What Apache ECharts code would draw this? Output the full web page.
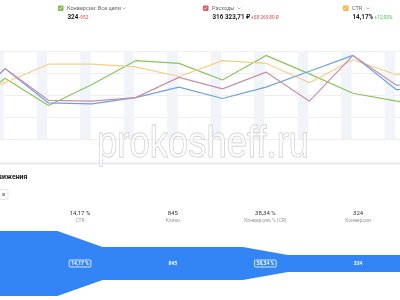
<!DOCTYPE html>
<html>
<head>
<meta charset="utf-8">
<script src="https://cdn.jsdelivr.net/npm/echarts@6/dist/echarts.min.js"></script>
<style>
  html, body { margin: 0; padding: 0; background: #fff; }
  #main { width: 400px; height: 300px; }
</style>
</head>
<body>
<div id="main"></div>
<script>
// недели (индекс -1 и 10 выходят за край графика)
const weeks = [-1, 0, 1, 2, 3, 4, 5, 6, 7, 8, 9, 10];
// нормированные значения, % высоты графика
const conversions = [30, 69, 38, 62, 89, 86, 67, 95, 74, 52, 43, 41];
const spend = [31, 80, 44, 43, 47, 70, 57, 76, 43, 95, 61, 67];
const ctr = [44, 64, 85, 85, 82, 71, 89, 86, 64, 90, 73, 84];
const clicks = [31, 80, 41, 40, 47, 59, 46, 59, 77, 95, 56, 57];

// воронка
const funnelStages = ['CTR', 'Клики', 'Конверсия, % (CR)', 'Конверсии'];
const funnelValues = ['14,17 %', '845', '38,34 %', '324'];
const funnelInner = ['14,17 %', '845', '38,34 %', '324'];
const funnelLevels = [100, 51, 26];

function chart() {
    let myChart = echarts.init(document.querySelector('#main'));
    const font = 'Roboto, "Noto Sans", sans-serif';

    const toPoints = arr => weeks.map((w, i) => [w * 7, arr[i]]);

    // выходные — полосы перед каждой точкой
    const weekendBands = weeks.map(w => [{ xAxis: w * 7 - 1.9 }, { xAxis: w * 7 - 0.2 }]);

    const colX = i => 80 + 92.7 * i;

    const line = (name, data, color) => ({
        name: name,
        type: 'line',
        xAxisIndex: 0,
        yAxisIndex: 0,
        data: toPoints(data),
        symbol: 'none',
        lineStyle: { color: color, width: 1.2 },
        z: 3
    });

    // контур воронки: ступени переходят друг в друга на колонках 0 и 2
    function renderFunnel(params, api) {
        const half = 0.243;
        const fx = [-2, -half, half, 2 - half, 2 + half, 5];
        const fl = [funnelLevels[0], funnelLevels[0], funnelLevels[1], funnelLevels[1], funnelLevels[2], funnelLevels[2]];
        const top = fx.map((x, i) => api.coord([x, 50 + fl[i] / 2]));
        const bottom = fx.map((x, i) => api.coord([x, 50 - fl[i] / 2])).reverse();
        return {
            type: 'polygon',
            shape: { points: top.concat(bottom) },
            style: { fill: '#3385f5' }
        };
    }

    const graphic = [];
    const head = [
        { x: 58, label: 'Конверсии: Все цели', cw: 124, val: '324', dx: 79, delta: '-952', dc: '#e0464e', box: '#7cc04b' },
        { x: 203, label: 'Расходы', cw: 239, val: '316 323,71 ₽', dx: 251, delta: '+58 269,80 ₽', dc: '#e0464e', box: '#e0566a' },
        { x: 343, label: 'CTR', cw: 368, val: '14,17%', dx: 374.5, delta: '+12,93%', dc: '#4caf50', box: '#f5b545' }
    ];
    head.forEach(h => {
        graphic.push({ type: 'rect', shape: { x: h.x, y: 5.5, width: 5.5, height: 5.5, r: 1 }, style: { fill: h.box } });
        graphic.push({ type: 'text', style: { text: '✓', x: h.x + 2.75, y: 8.4, fill: '#fff', font: 'bold 5px "DejaVu Sans"', textAlign: 'center', textVerticalAlign: 'middle' } });
        graphic.push({ type: 'text', style: { text: h.label, x: h.x + 9, y: 8.5, fill: '#666', font: '5.5px ' + font, textVerticalAlign: 'middle' } });
        graphic.push({ type: 'polyline', shape: { points: [[h.cw - 1.5, 7.5], [h.cw, 9], [h.cw + 1.5, 7.5]] }, style: { stroke: '#999', lineWidth: 0.7, fill: null } });
        graphic.push({ type: 'text', style: { text: h.val, x: h.x + 9.5, y: 17.5, fill: '#222', font: 'bold 6.3px ' + font, textVerticalAlign: 'middle' } });
        graphic.push({ type: 'text', style: { text: h.delta, x: h.dx, y: 18, fill: h.dc, font: '4.8px ' + font, textVerticalAlign: 'middle' } });
    });

    // водяной знак
    graphic.push({
        type: 'text', x: 97, y: 145, scaleX: 0.81, z: 100,
        style: { text: 'prokosheff.ru', x: 0, y: 0, font: '45px "Liberation Sans", Arial', fill: 'rgba(255,255,255,0.55)', stroke: '#c8c8c8', lineWidth: 1, textVerticalAlign: 'middle' }
    });
    graphic.push({ type: 'line', shape: { x1: 0, y1: 163.5, x2: 400, y2: 163.5 }, style: { stroke: '#e9ecf1', lineWidth: 2 } });

    graphic.push({ type: 'text', style: { text: 'Воронка движения', x: 27.5, y: 177, fill: '#222', font: 'bold 7px ' + font, textAlign: 'right', textVerticalAlign: 'middle' } });
    graphic.push({ type: 'rect', shape: { x: -10, y: 189.5, width: 18, height: 10, r: 2 }, style: { fill: '#fff', stroke: '#dcdcdc', lineWidth: 0.8 } });
    graphic.push({ type: 'text', style: { text: 'а', x: 5, y: 194.5, fill: '#444', font: '5.5px ' + font, textAlign: 'right', textVerticalAlign: 'middle' } });

    funnelStages.forEach((s, i) => {
        graphic.push({ type: 'text', style: { text: funnelValues[i], x: colX(i), y: 213, fill: '#333', font: '6px ' + font, textAlign: 'center', textVerticalAlign: 'middle' } });
        graphic.push({ type: 'text', style: { text: s, x: colX(i), y: 221, fill: '#999', font: '5px ' + font, textAlign: 'center', textVerticalAlign: 'middle' } });
        const tag = i % 2 === 0;
        graphic.push({
            type: 'text', z: 10,
            style: {
                text: funnelInner[i], x: colX(i), y: 263.5, fill: '#fff', font: 'bold 5px ' + font,
                textAlign: 'center', textVerticalAlign: 'middle',
                padding: tag ? [1, 2] : 0, borderColor: tag ? '#fff' : null, borderWidth: tag ? 0.8 : 0, borderRadius: 1
            }
        });
    });

    let option = {
        animation: false,
        backgroundColor: '#fff',
        grid: [
            { left: 0, right: 0, top: 51, height: 88 },
            { left: 0, right: 0, top: 231, height: 65 }
        ],
        xAxis: [
            { type: 'value', gridIndex: 0, min: -0.805, max: 63.57, show: false },
            { type: 'value', gridIndex: 1, min: -0.863, max: 3.452, show: false }
        ],
        yAxis: [
            {
                type: 'value', gridIndex: 0, min: 0, max: 100, interval: 25,
                axisLabel: { show: false }, axisLine: { show: false }, axisTick: { show: false },
                splitLine: { lineStyle: { color: '#e8eaee', width: 0.8 } }
            },
            { type: 'value', gridIndex: 1, min: 0, max: 100, show: false }
        ],
        series: [
            {
                type: 'line', xAxisIndex: 0, yAxisIndex: 0, data: [], silent: true,
                markArea: { silent: true, itemStyle: { color: '#f1f4f9' }, data: weekendBands },
                z: 1
            },
            line('Конверсии', conversions, '#8cc45c'),
            line('CTR', ctr, '#f4cf86'),
            line('Клики', clicks, '#6ea3d9'),
            line('Расходы', spend, '#c990a7'),
            {
                type: 'custom', xAxisIndex: 1, yAxisIndex: 1,
                data: [[0, funnelLevels[0]]],
                renderItem: renderFunnel,
                clip: false,
                silent: true
            }
        ],
        graphic: graphic
    };
    myChart.setOption(option);
}
chart();
</script>
</body>
</html>
